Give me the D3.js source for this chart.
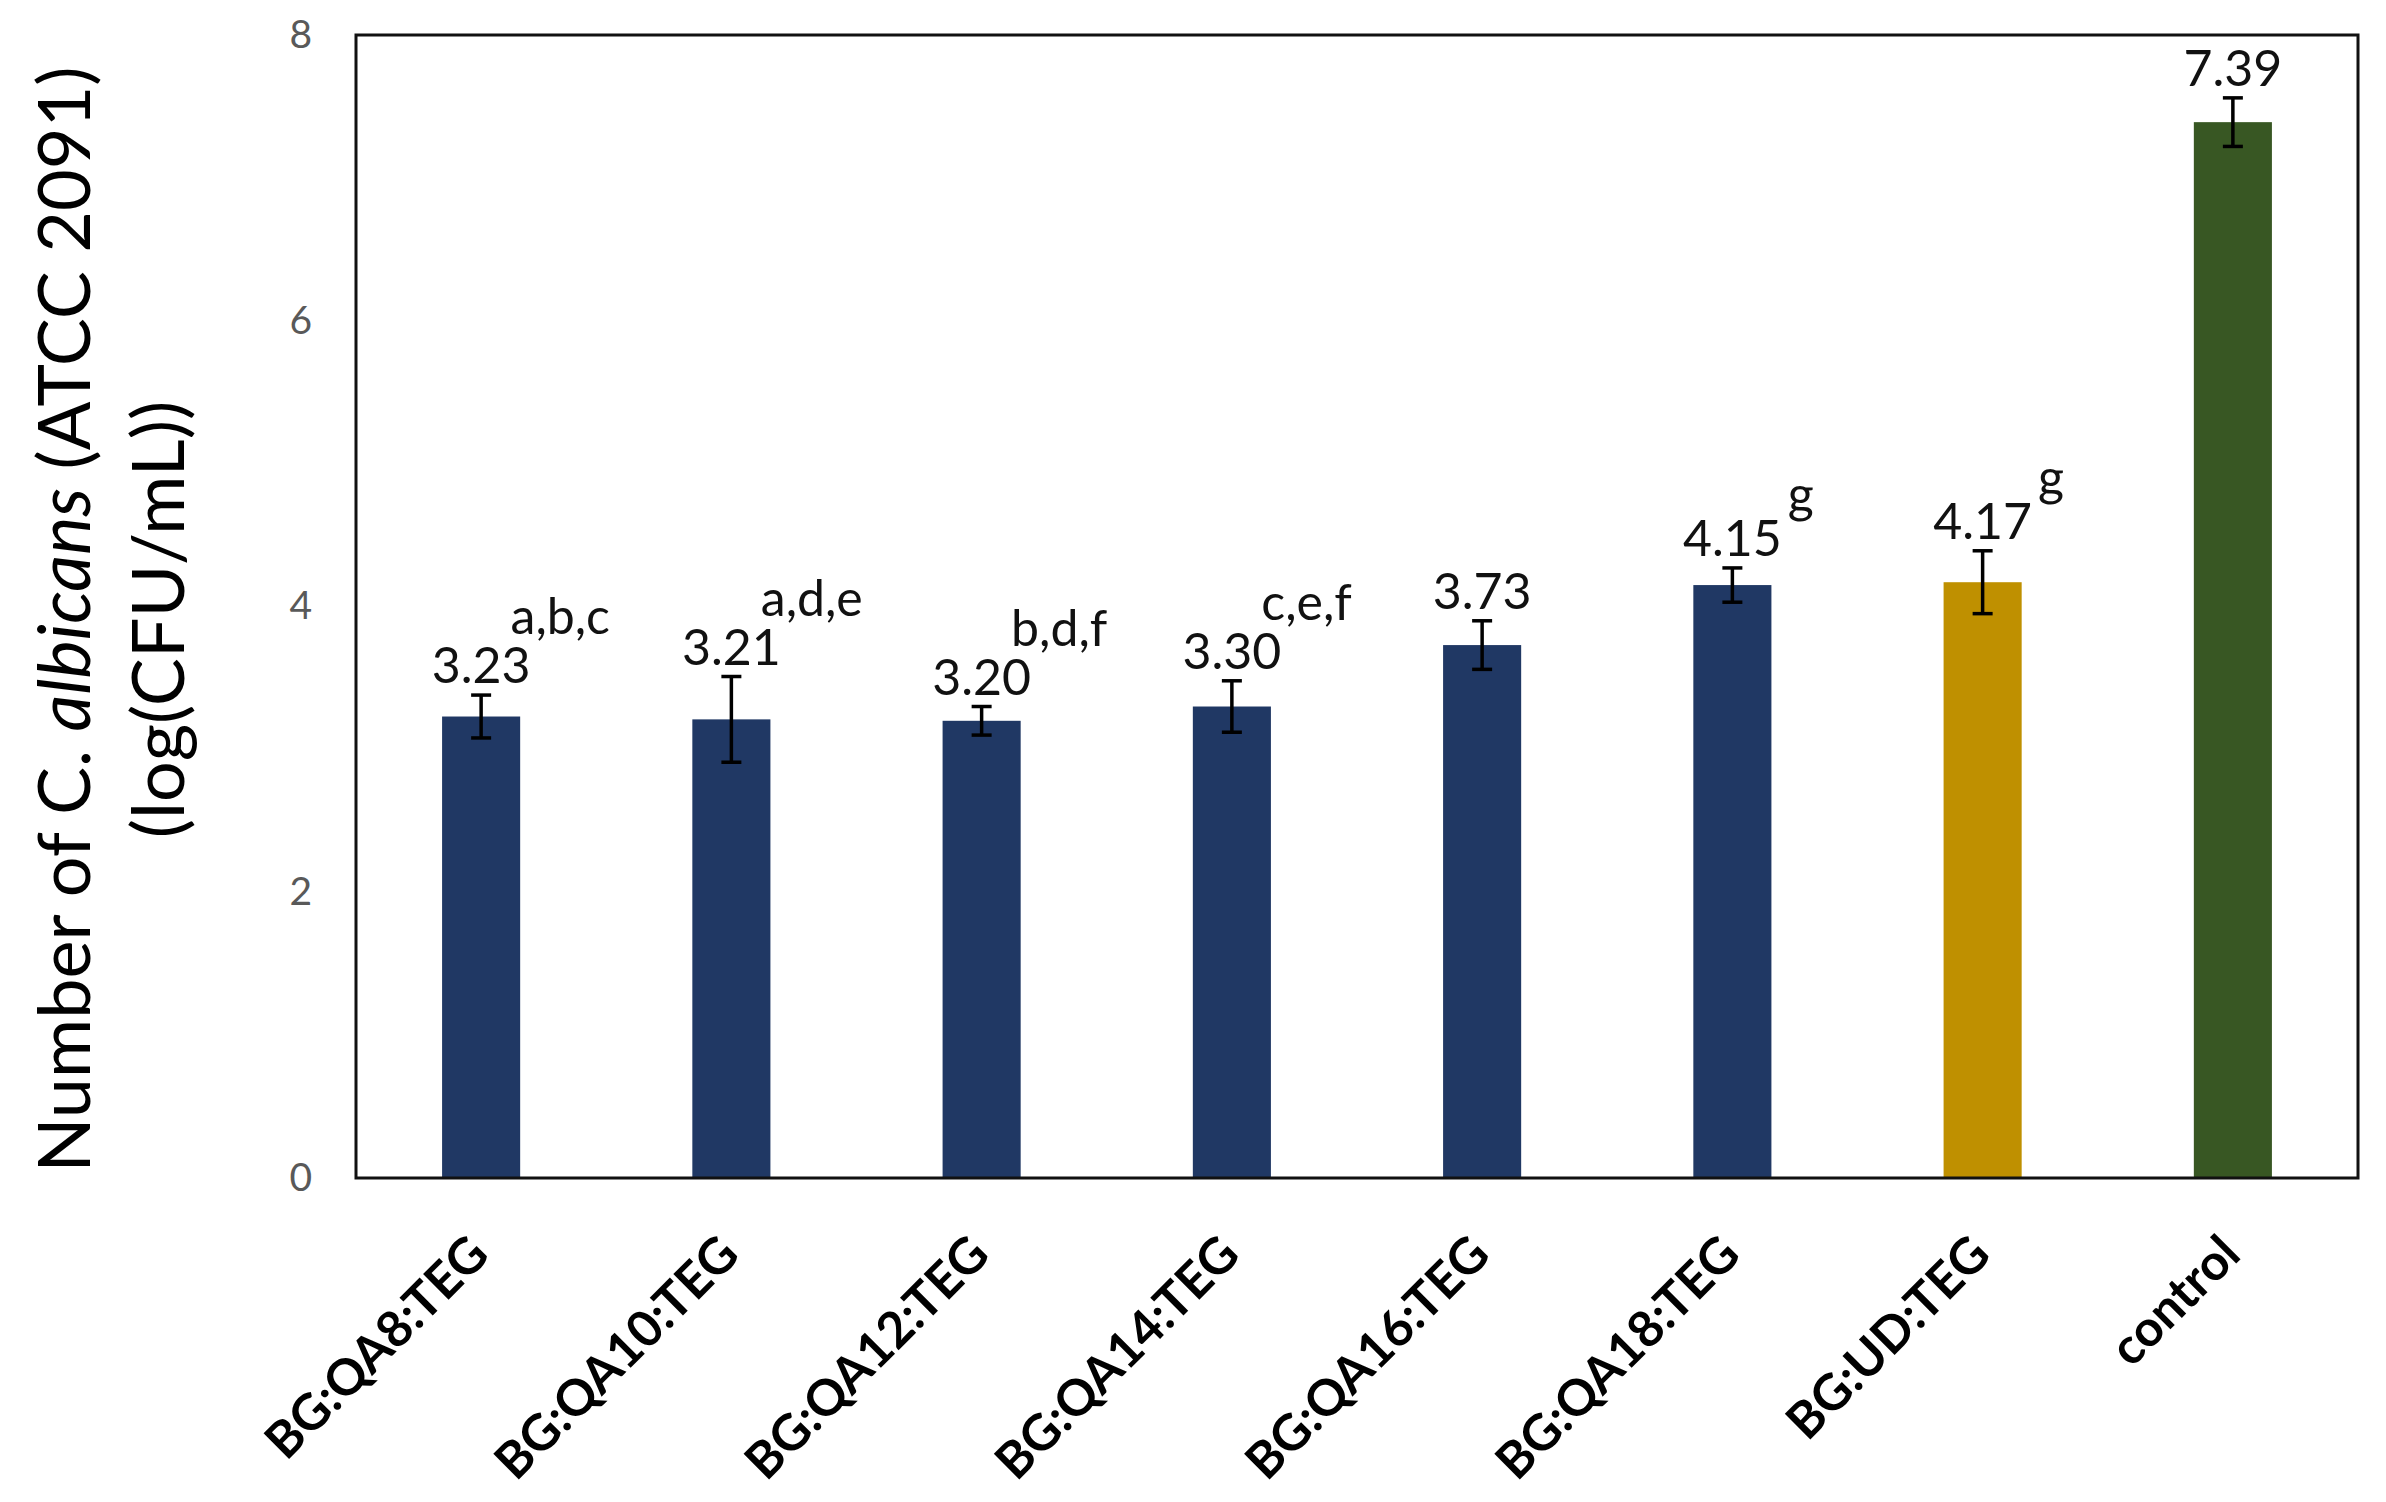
<!DOCTYPE html>
<html>
<head>
<meta charset="utf-8">
<script src="https://cdn.jsdelivr.net/npm/d3@7"></script>
<style>
  html, body { margin: 0; padding: 0; background: #fff; }
  svg { display: block; font-family: Lato, "Open Sans", sans-serif; }
</style>
</head>
<body>
<div id="chart"></div>
<script>
const categories = ["BG:QA8:TEG", "BG:QA10:TEG", "BG:QA12:TEG", "BG:QA14:TEG",
  "BG:QA16:TEG", "BG:QA18:TEG", "BG:UD:TEG", "control"];
const groups = ["QA", "QA", "QA", "QA", "QA", "QA", "UD", "control"];
const means = [3.23, 3.21, 3.20, 3.30, 3.73, 4.15, 4.17, 7.39];
const errors = [0.15, 0.30, 0.10, 0.18, 0.17, 0.12, 0.22, 0.17];
const letters = ["a,b,c", "a,d,e", "b,d,f", "c,e,f", "", "g", "g", ""];
const yTicks = [0, 2, 4, 6, 8];

const width = 2386;
const height = 1502;
const margin = { top: 35, right: 28, bottom: 324, left: 356 };

const data = categories.map((c, i) => ({
  name: c, group: groups[i], mean: means[i], err: errors[i], letter: letters[i]
}));

const color = d3.scaleOrdinal()
  .domain(["QA", "UD", "control"])
  .range(["#203864", "#bf9000", "#385723"]);

const x = d3.scaleBand()
  .domain(categories)
  .range([margin.left, width - margin.right])
  .paddingInner(0.688)
  .paddingOuter(0.344);

const y = d3.scaleLinear()
  .domain([0, 8])
  .range([height - margin.bottom, margin.top]);

const svg = d3.select("#chart")
  .append("svg")
  .attr("width", width)
  .attr("height", height);

// y axis (labels only)
svg.append("g")
  .attr("transform", `translate(${margin.left},0)`)
  .call(d3.axisLeft(y).tickValues(yTicks).tickSize(0).tickPadding(44))
  .call(g => g.select(".domain").remove())
  .selectAll("text")
  .style("font-family", "Lato, sans-serif")
  .style("font-size", "39px")
  .attr("fill", "#595959");

// bars
svg.selectAll("rect.bar")
  .data(data)
  .join("rect")
  .attr("class", "bar")
  .attr("x", d => x(d.name))
  .attr("y", d => y(d.mean))
  .attr("width", x.bandwidth())
  .attr("height", d => y(0) - y(d.mean))
  .attr("fill", d => color(d.group));

// error bars
const eb = svg.append("g")
  .attr("stroke", "#000")
  .attr("stroke-width", 3.5);

const cx = d => x(d.name) + x.bandwidth() / 2;

eb.selectAll("line.v")
  .data(data)
  .join("line")
  .attr("class", "v")
  .attr("x1", cx).attr("x2", cx)
  .attr("y1", d => y(d.mean + d.err))
  .attr("y2", d => y(d.mean - d.err));

eb.selectAll("line.top")
  .data(data)
  .join("line")
  .attr("class", "top")
  .attr("x1", d => cx(d) - 10).attr("x2", d => cx(d) + 10)
  .attr("y1", d => y(d.mean + d.err))
  .attr("y2", d => y(d.mean + d.err));

eb.selectAll("line.bot")
  .data(data)
  .join("line")
  .attr("class", "bot")
  .attr("x1", d => cx(d) - 10).attr("x2", d => cx(d) + 10)
  .attr("y1", d => y(d.mean - d.err))
  .attr("y2", d => y(d.mean - d.err));

// value labels
const valueLabels = svg.selectAll("text.value")
  .data(data)
  .join("text")
  .attr("class", "value")
  .attr("x", cx)
  .attr("y", d => y(d.mean + d.err) - 12)
  .attr("text-anchor", "middle")
  .style("font-size", "50px")
  .attr("fill", "#111")
  .text(d => d.mean.toFixed(2));

// significance letters
valueLabels.each(function(d) {
  if (!d.letter) return;
  const bb = this.getBBox();
  const single = d.letter.length === 1;
  svg.append("text")
    .attr("x", bb.x + bb.width + (single ? 6 : -20))
    .attr("y", +d3.select(this).attr("y") - (single ? 44 : 49))
    .style("font-size", "50px")
    .attr("fill", "#111")
    .text(d.letter);
});

// frame
svg.append("rect")
  .attr("x", margin.left)
  .attr("y", margin.top)
  .attr("width", width - margin.right - margin.left)
  .attr("height", height - margin.bottom - margin.top)
  .attr("fill", "none")
  .attr("stroke", "#111")
  .attr("stroke-width", 3);

// x axis (rotated labels)
svg.append("g")
  .attr("transform", `translate(0,${height - margin.bottom})`)
  .call(d3.axisBottom(x).tickSize(0))
  .call(g => g.select(".domain").remove())
  .selectAll("text")
  .attr("x", 0).attr("y", 0).attr("dy", 0)
  .attr("text-anchor", "end")
  .attr("transform", "translate(10,79) rotate(-45)")
  .style("font-family", "Lato, sans-serif")
  .style("font-size", "50px")
  .style("font-weight", "bold")
  .attr("fill", "#000");

// y axis title
const midY = (margin.top + height - margin.bottom) / 2 + 13;
const title1 = svg.append("text")
  .attr("transform", `translate(90,${midY}) rotate(-90)`)
  .attr("text-anchor", "middle")
  .style("font-size", "72px")
  .attr("fill", "#000");
title1.append("tspan").text("Number of C. ");
title1.append("tspan").style("font-style", "italic").text("albicans");
title1.append("tspan").text(" (ATCC 2091)");

svg.append("text")
  .attr("transform", `translate(184,${midY}) rotate(-90)`)
  .attr("text-anchor", "middle")
  .style("font-size", "72px")
  .attr("fill", "#000")
  .text("(log(CFU/mL))");
</script>
</body>
</html>
